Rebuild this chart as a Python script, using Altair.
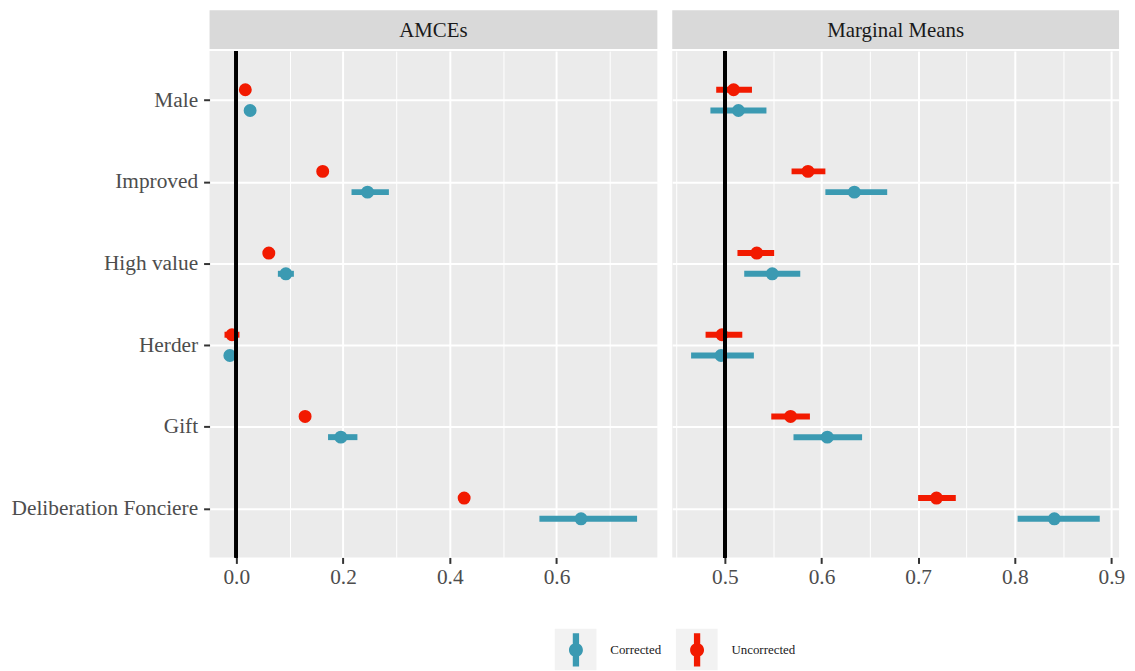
import json
import altair as alt
import pandas as pd

# ---------------- data ----------------
CATEGORIES = ["Male", "Improved", "High value", "Herder", "Gift", "Deliberation Fonciere"]
SERIES = ["Corrected", "Uncorrected"]
COLORS = ["#3B9AB2", "#F21A00"]

AMCE_UNC_EST = [0.017, 0.162, 0.061, -0.008, 0.129, 0.427]
AMCE_UNC_LO = [0.007, 0.152, 0.051, -0.022, 0.119, 0.417]
AMCE_UNC_HI = [0.027, 0.172, 0.071, 0.006, 0.139, 0.437]
AMCE_COR_EST = [0.026, 0.246, 0.093, -0.012, 0.196, 0.646]
AMCE_COR_LO = [0.016, 0.216, 0.078, -0.022, 0.172, 0.568]
AMCE_COR_HI = [0.036, 0.286, 0.108, -0.002, 0.227, 0.751]

MM_UNC_EST = [0.509, 0.586, 0.533, 0.497, 0.568, 0.719]
MM_UNC_LO = [0.491, 0.569, 0.513, 0.480, 0.548, 0.700]
MM_UNC_HI = [0.528, 0.604, 0.551, 0.518, 0.588, 0.739]
MM_COR_EST = [0.514, 0.634, 0.549, 0.496, 0.606, 0.841]
MM_COR_LO = [0.485, 0.604, 0.520, 0.465, 0.571, 0.803]
MM_COR_HI = [0.543, 0.668, 0.578, 0.530, 0.642, 0.888]

AMCE_MAJOR = [0.0, 0.2, 0.4, 0.6]
AMCE_MINOR = [0.1, 0.3, 0.5, 0.7]
MM_MAJOR = [0.5, 0.6, 0.7, 0.8, 0.9]
MM_MINOR = [0.45, 0.55, 0.65, 0.75, 0.85]

# ---------------- style ----------------
FONT = "Liberation Serif"
W_LEFT, W_RIGHT, H, STRIP_H = 451, 450, 510, 39
DODGE = 0.127
PANEL_BG = alt.ViewBackground(fill="#EBEBEB", strokeWidth=0)
LEG_X, LEG_Y = 352, 627  # legend position relative to the plot origin


def build_df(unc_est, unc_lo, unc_hi, cor_est, cor_lo, cor_hi):
    rows = []
    for i, cat in enumerate(CATEGORIES):
        rows.append(dict(cat=cat, series="Uncorrected", key="Uncorrected", pos=i - DODGE,
                         est=unc_est[i], lo=unc_lo[i], hi=unc_hi[i]))
        rows.append(dict(cat=cat, series="Corrected", key="Corrected", pos=i + DODGE,
                         est=cor_est[i], lo=cor_lo[i], hi=cor_hi[i]))
    return pd.DataFrame(rows)


color_scale = alt.Scale(domain=SERIES, range=COLORS)
LEGEND_SHAPE = ("M-0.19,-1L0.19,-1L0.19,1L-0.19,1Z "
                "M0.42,0A0.42,0.42,0,1,1,-0.42,0A0.42,0.42,0,1,1,0.42,0Z")
LEGEND = alt.Legend(
    title=None, orient="none", legendX=LEG_X, legendY=LEG_Y, direction="horizontal",
    symbolType=LEGEND_SHAPE, symbolSize=1115, symbolStrokeWidth=0,
    symbolOpacity=1, labelFont=FONT, labelFontSize=13,
    labelColor="#1A1A1A", labelOffset=17.6, columnPadding=19, zindex=2,
)
# grey key backgrounds (drawn underneath the colour legend, no labels)
KEY_LEGEND = alt.Legend(
    title=None, orient="none", legendX=LEG_X - 4.3, legendY=LEG_Y - 4.3,
    direction="horizontal", symbolType="square", symbolSize=1764,
    symbolFillColor="#F2F2F2", symbolStrokeWidth=0, symbolOpacity=1,
    labelExpr="''", labelFontSize=1, labelOffset=0, columnPadding=80, zindex=1,
)


def panel(df, ref, domain, major, minor, width, show_y):
    is_major = f"indexof({json.dumps(major)}, datum.value) >= 0"
    xaxis = alt.Axis(
        values=sorted(major + minor), title=None,
        labelExpr=f"{is_major} ? format(datum.value, '.1f') : ''",
        grid=True, gridColor="white",
        gridWidth={"condition": {"test": is_major, "value": 2}, "value": 1},
        tickColor={"condition": {"test": is_major, "value": "#333333"}, "value": "transparent"},
        tickSize=6, tickWidth=2, domain=False,
        labelFont=FONT, labelFontSize=21.5, labelColor="#4D4D4D", labelPadding=3,
        labelFlush=False,
    )
    if show_y:
        yaxis = alt.Axis(
            values=list(range(len(CATEGORIES))), title=None,
            labelExpr=f"{json.dumps(CATEGORIES)}[datum.value]",
            grid=True, gridColor="white", gridWidth=2,
            tickColor="#333333", tickSize=6, tickWidth=2, domain=False,
            labelFont=FONT, labelFontSize=21.5, labelColor="#4D4D4D", labelPadding=6,
            labelLimit=400,
        )
    else:
        yaxis = alt.Axis(
            values=list(range(len(CATEGORIES))), title=None, labels=False,
            ticks=False, domain=False, grid=True, gridColor="white", gridWidth=2,
        )
    xs = alt.Scale(domain=domain, nice=False, zero=False)
    ys = alt.Scale(domain=[-0.6, len(CATEGORIES) - 0.4], reverse=True, nice=False, zero=False)
    base = alt.Chart(df)
    bars = base.mark_rule(strokeWidth=6).encode(
        x=alt.X("lo:Q", scale=xs, axis=xaxis),
        x2="hi:Q",
        y=alt.Y("pos:Q", scale=ys, axis=yaxis),
        color=alt.Color("series:N", scale=color_scale, legend=LEGEND),
    )
    pts = base.mark_point(filled=True, size=170).encode(
        x=alt.X("est:Q"),
        y=alt.Y("pos:Q"),
        color=alt.Color("series:N", scale=color_scale, legend=LEGEND),
        opacity=alt.Opacity("key:N", scale=alt.Scale(domain=SERIES[::-1], range=[1, 1]),
                            legend=KEY_LEGEND),
    )
    vline = base.mark_rule(color="black", strokeWidth=3).encode(x=alt.datum(ref))
    return alt.layer(bars, pts, vline).properties(width=width, height=H, view=PANEL_BG)


def strip(title, width):
    d = pd.DataFrame({"t": [title]})
    rect = alt.Chart(d).mark_rect(color="#D9D9D9").encode(
        x=alt.value(0), x2=alt.value(width), y=alt.value(0), y2=alt.value(STRIP_H))
    txt = alt.Chart(d).mark_text(font=FONT, fontSize=21, color="#1A1A1A",
                                 baseline="middle", align="center").encode(
        text="t:N", x=alt.value(width / 2), y=alt.value(STRIP_H / 2 + 1))
    return alt.layer(rect, txt).properties(
        width=width, height=STRIP_H, view=alt.ViewBackground(strokeWidth=0))


amce = build_df(AMCE_UNC_EST, AMCE_UNC_LO, AMCE_UNC_HI, AMCE_COR_EST, AMCE_COR_LO, AMCE_COR_HI)
mm = build_df(MM_UNC_EST, MM_UNC_LO, MM_UNC_HI, MM_COR_EST, MM_COR_LO, MM_COR_HI)

left = alt.vconcat(
    strip("AMCEs", W_LEFT),
    panel(amce, 0.0, [-0.05, 0.789], AMCE_MAJOR, AMCE_MINOR, W_LEFT, True),
    spacing=0,
)
right = alt.vconcat(
    strip("Marginal Means", W_RIGHT),
    panel(mm, 0.5, [0.4455, 0.908], MM_MAJOR, MM_MINOR, W_RIGHT, False),
    spacing=0,
)

chart = (
    alt.hconcat(left, right, spacing=15)
    .resolve_scale(x="independent", color="shared", opacity="shared")
    .properties(padding={"top": 0, "left": 2, "right": 2, "bottom": 2})
    .configure(background="white")
)

chart.save("out.html", embed_options={"renderer": "svg", "actions": False})
